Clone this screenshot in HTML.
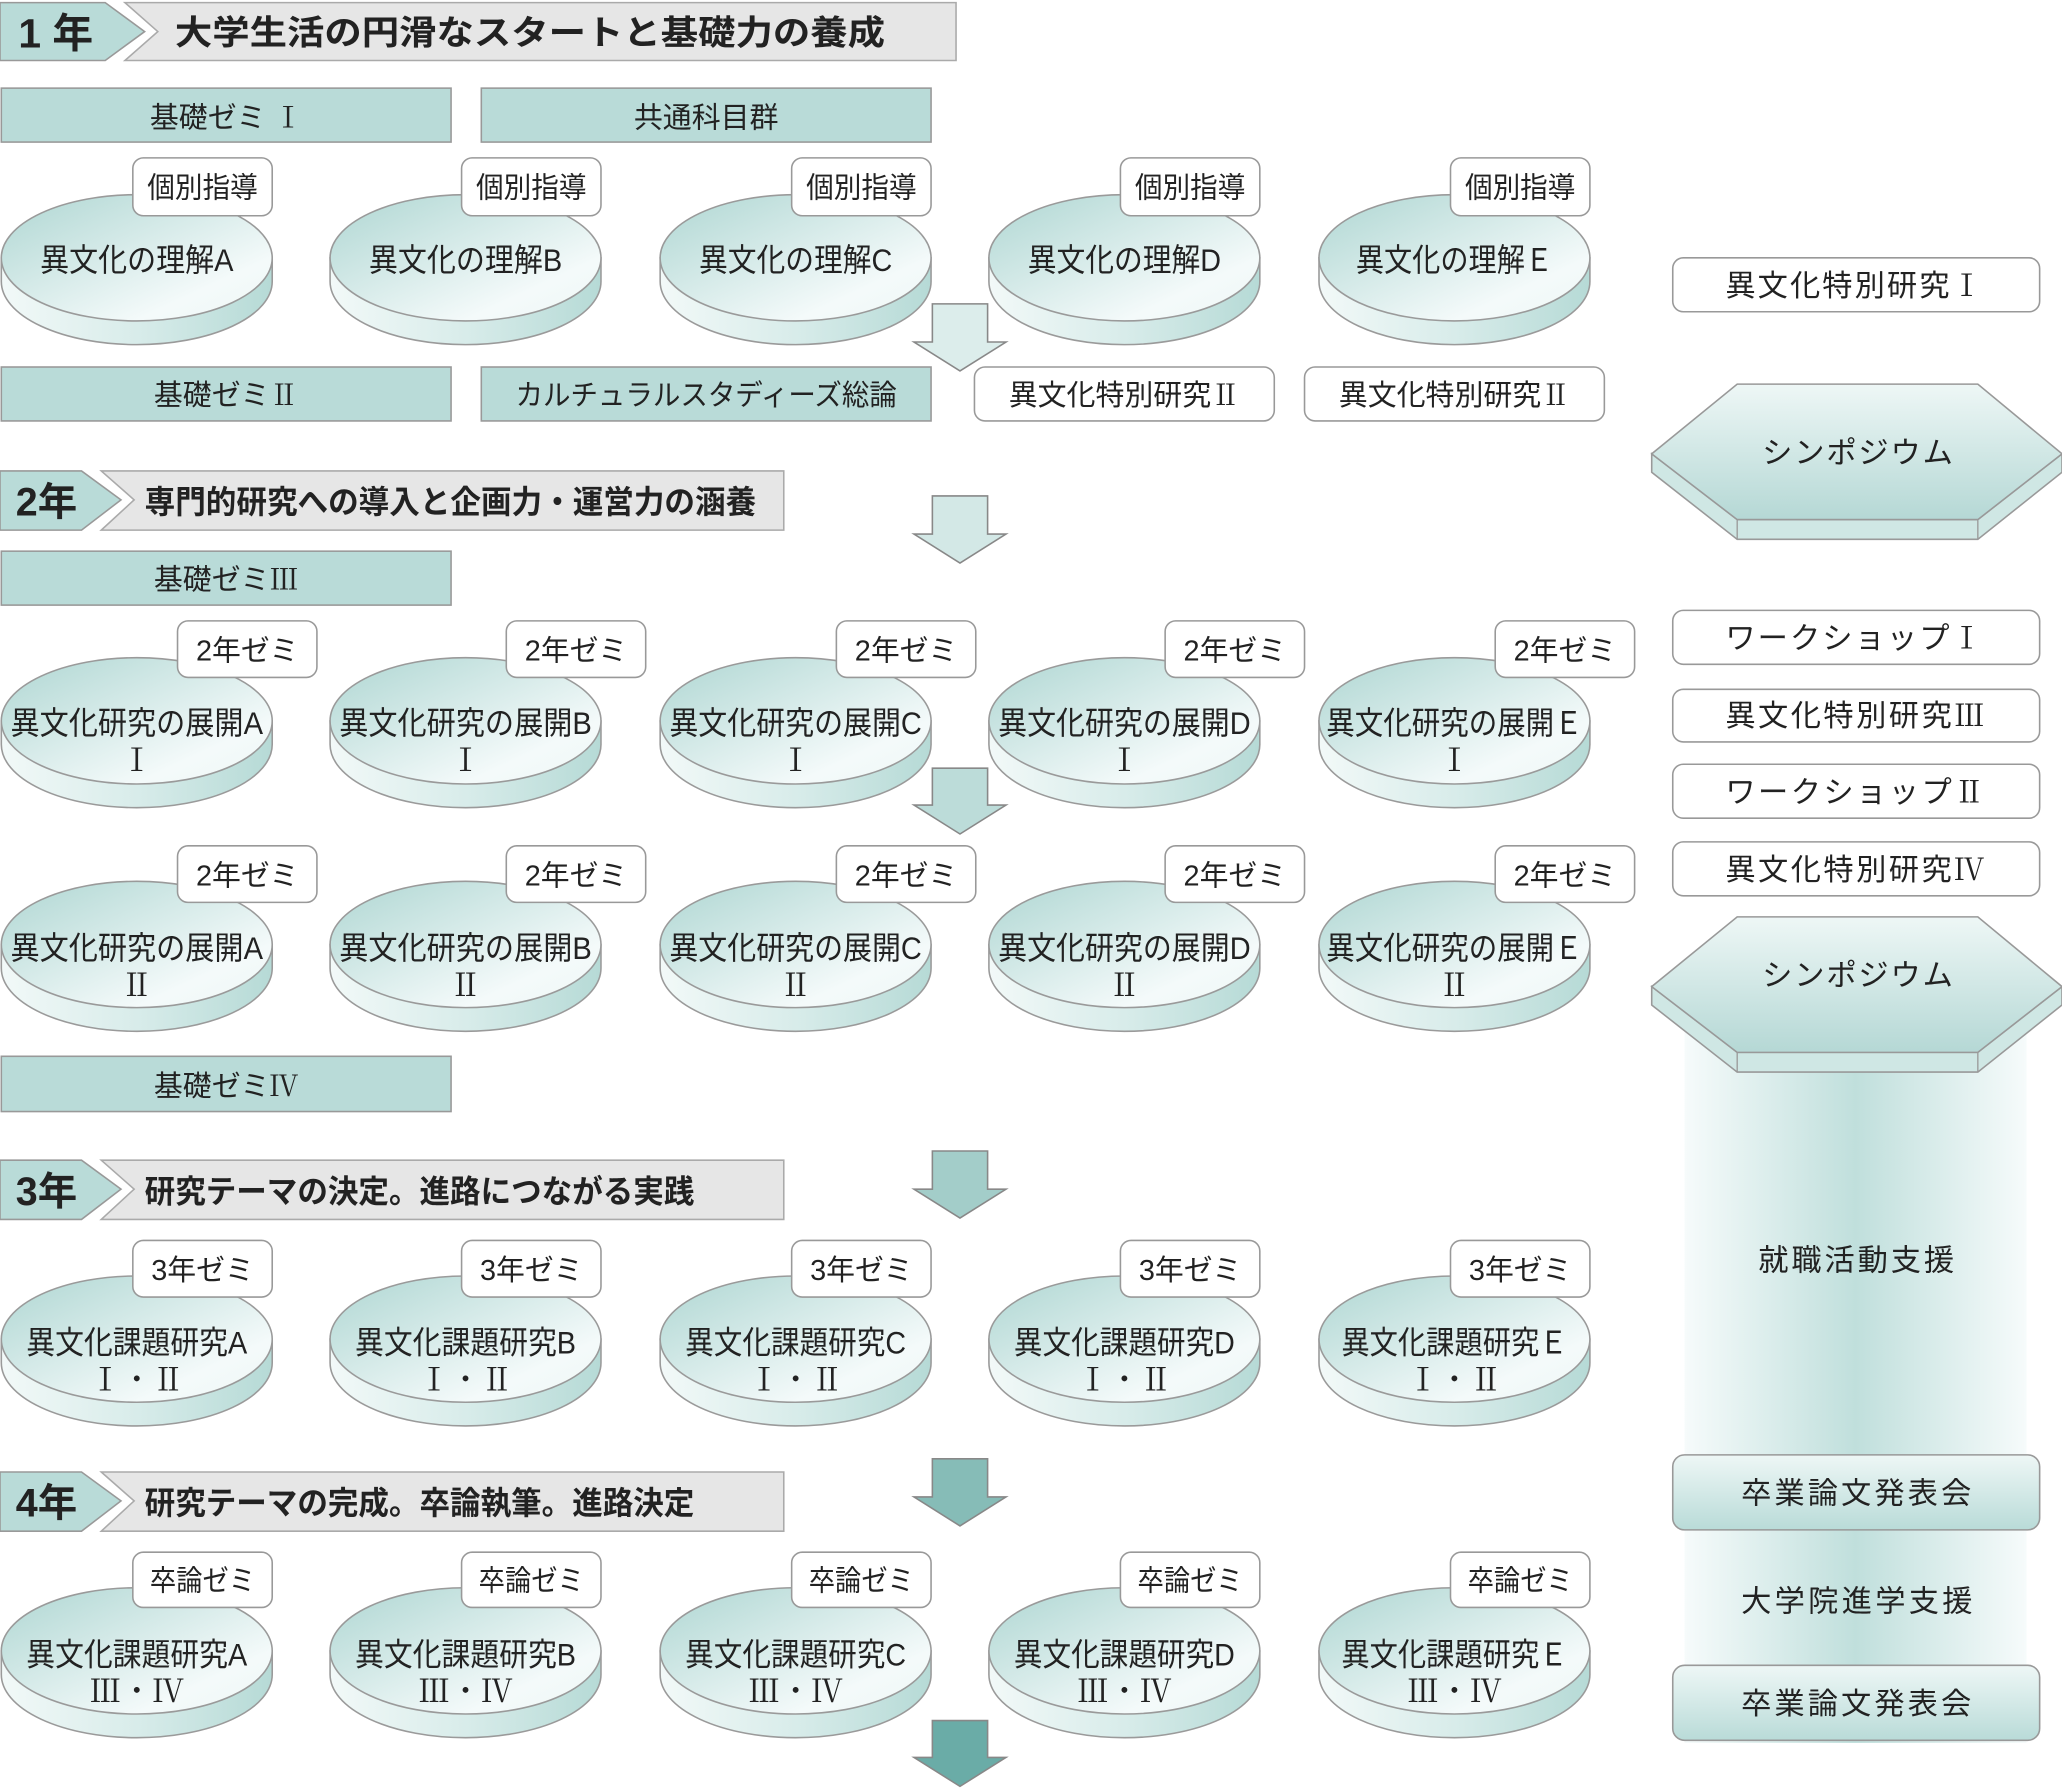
<!DOCTYPE html>
<html><head><meta charset="utf-8"><style>
html,body{margin:0;padding:0;background:#fff;}
svg{display:block;}
text{font-family:"Liberation Sans","Noto Sans CJK JP",sans-serif;fill:#222;}
.r{font-family:"Noto Serif CJK SC","Liberation Serif",serif;}
</style></head><body>
<svg width="2062" height="1789" viewBox="0 0 1568 1360" preserveAspectRatio="none" xmlns="http://www.w3.org/2000/svg">
<defs>
<linearGradient id="top" x1="0" y1="0" x2="1" y2="1">
<stop offset="0" stop-color="#aed6d2"/><stop offset="0.75" stop-color="#f4fafa"/><stop offset="1" stop-color="#eef7f6"/></linearGradient>
<linearGradient id="side" x1="0" y1="0" x2="1" y2="0">
<stop offset="0" stop-color="#f2f9f8"/><stop offset="0.5" stop-color="#d8ecea"/><stop offset="1" stop-color="#b6dad6"/></linearGradient>
<linearGradient id="col" x1="0" y1="0" x2="1" y2="0">
<stop offset="0" stop-color="#f6fbfb"/><stop offset="0.5" stop-color="#c0dfdc"/><stop offset="1" stop-color="#f6fbfb"/></linearGradient>
<linearGradient id="hex" x1="0" y1="0" x2="0" y2="1">
<stop offset="0" stop-color="#eef7f6"/><stop offset="1" stop-color="#b5d8d5"/></linearGradient>
<linearGradient id="btn" x1="0" y1="0" x2="0" y2="1">
<stop offset="0" stop-color="#eef7f6"/><stop offset="1" stop-color="#b9dbd8"/></linearGradient>
<g id="disc">
<path d="M-103,0 L-103,18 A103,48 0 0 0 103,18 L103,0 Z" fill="url(#side)" stroke="#9a9a9a" stroke-width="1.2"/>
<ellipse cx="0" cy="0" rx="103" ry="48" fill="url(#top)" stroke="#9a9a9a" stroke-width="1.2"/>
</g>
<g id="hexs">
<polygon points="0,53 0,67 65,118 248,118 312,67 312,53 248,103 65,103" fill="#cfe7e4" stroke="#999" stroke-width="1.2"/>
<line x1="65" y1="103" x2="65" y2="118" stroke="#999"/><line x1="248" y1="103" x2="248" y2="118" stroke="#999"/>
<polygon points="65,0 248,0 312,53 248,103 65,103 0,53" fill="url(#hex)" stroke="#999" stroke-width="1.2"/>
</g>
</defs>

<rect x="1281" y="780" width="260" height="545" fill="url(#col)"/>

<!-- Year 1 header -->
<polygon points="0,2 80,2 110,24 80,46 0,46" fill="#b9dbd8" stroke="#999" stroke-width="1.2"/>
<polygon points="95,2 727,2 727,46 95,46 120,24" fill="#e6e6e6" stroke="#aaa" stroke-width="1.2"/>
<text x="14" y="36" font-size="31" font-weight="bold">1 年</text>
<text x="133" y="34" font-size="26" font-weight="bold" textLength="540" lengthAdjust="spacingAndGlyphs">大学生活の円滑なスタートと基礎力の養成</text>

<rect x="1" y="67" width="342" height="41" fill="#b9dbd8" stroke="#999" stroke-width="1.2"/>
<text x="172" y="97" font-size="22" text-anchor="middle">基礎ゼミ <tspan class="r">Ⅰ</tspan></text>
<rect x="366" y="67" width="342" height="41" fill="#b9dbd8" stroke="#999" stroke-width="1.2"/>
<text x="537" y="97" font-size="22" text-anchor="middle">共通科目群</text>

<g font-size="22">
<use href="#disc" x="104" y="196"/><use href="#disc" x="354" y="196"/><use href="#disc" x="605" y="196"/><use href="#disc" x="855" y="196"/><use href="#disc" x="1106" y="196"/>
<rect x="101" y="120" width="106" height="44" rx="8" fill="#fff" stroke="#999" stroke-width="1.2"/>
<rect x="351" y="120" width="106" height="44" rx="8" fill="#fff" stroke="#999" stroke-width="1.2"/>
<rect x="602" y="120" width="106" height="44" rx="8" fill="#fff" stroke="#999" stroke-width="1.2"/>
<rect x="852" y="120" width="106" height="44" rx="8" fill="#fff" stroke="#999" stroke-width="1.2"/>
<rect x="1103" y="120" width="106" height="44" rx="8" fill="#fff" stroke="#999" stroke-width="1.2"/>
<text x="154" y="150" text-anchor="middle" textLength="84" lengthAdjust="spacingAndGlyphs">個別指導</text>
<text x="404" y="150" text-anchor="middle" textLength="84" lengthAdjust="spacingAndGlyphs">個別指導</text>
<text x="655" y="150" text-anchor="middle" textLength="84" lengthAdjust="spacingAndGlyphs">個別指導</text>
<text x="905" y="150" text-anchor="middle" textLength="84" lengthAdjust="spacingAndGlyphs">個別指導</text>
<text x="1156" y="150" text-anchor="middle" textLength="84" lengthAdjust="spacingAndGlyphs">個別指導</text>
</g>
<g font-size="24">
<text x="104" y="206" text-anchor="middle" textLength="147" lengthAdjust="spacingAndGlyphs">異文化の理解A</text>
<text x="354" y="206" text-anchor="middle" textLength="147" lengthAdjust="spacingAndGlyphs">異文化の理解B</text>
<text x="605" y="206" text-anchor="middle" textLength="147" lengthAdjust="spacingAndGlyphs">異文化の理解C</text>
<text x="855" y="206" text-anchor="middle" textLength="147" lengthAdjust="spacingAndGlyphs">異文化の理解D</text>
<text x="1106" y="206" text-anchor="middle" textLength="150" lengthAdjust="spacingAndGlyphs">異文化の理解Ｅ</text>
</g>

<!-- arrows -->
<polygon points="709,231 751,231 751,260 765,260 730,282 695,260 709,260" fill="#dcedeb" stroke="#888" stroke-width="1.2"/>
<polygon points="709,377 751,377 751,406 765,406 730,428 695,406 709,406" fill="#d3e8e6" stroke="#888" stroke-width="1.2"/>
<polygon points="709,584 751,584 751,612 765,612 730,634 695,612 709,612" fill="#bcdcd9" stroke="#888" stroke-width="1.2"/>
<polygon points="709,875 751,875 751,904 765,904 730,926 695,904 709,904" fill="#a3cdc9" stroke="#888" stroke-width="1.2"/>
<polygon points="709,1109 751,1109 751,1138 765,1138 730,1160 695,1138 709,1138" fill="#86bcb7" stroke="#888" stroke-width="1.2"/>
<polygon points="709,1308 751,1308 751,1336 765,1336 730,1358 695,1336 709,1336" fill="#6aaca7" stroke="#888" stroke-width="1.2"/>

<rect x="1" y="279" width="342" height="41" fill="#b9dbd8" stroke="#999" stroke-width="1.2"/>
<text x="172" y="308" font-size="22" text-anchor="middle">基礎ゼミ<tspan class="r">Ⅱ</tspan></text>
<rect x="366" y="279" width="342" height="41" fill="#b9dbd8" stroke="#999" stroke-width="1.2"/>
<text x="537" y="308" font-size="22" text-anchor="middle" textLength="290" lengthAdjust="spacingAndGlyphs">カルチュラルスタディーズ総論</text>
<rect x="741" y="279" width="228" height="41" rx="8" fill="#fff" stroke="#999" stroke-width="1.2"/>
<text x="855" y="308" font-size="22" text-anchor="middle">異文化特別研究<tspan class="r">Ⅱ</tspan></text>
<rect x="992" y="279" width="228" height="41" rx="8" fill="#fff" stroke="#999" stroke-width="1.2"/>
<text x="1106" y="308" font-size="22" text-anchor="middle">異文化特別研究<tspan class="r">Ⅱ</tspan></text>

<!-- right side -->
<g font-size="23">
<rect x="1272" y="196" width="279" height="41" rx="8" fill="#fff" stroke="#999" stroke-width="1.2"/>
<text x="1312" y="225" textLength="195" lengthAdjust="spacing">異文化特別研究<tspan class="r">Ⅰ</tspan></text>
<use href="#hexs" x="1256" y="292"/>
<text x="1340" y="352" textLength="145" lengthAdjust="spacing">シンポジウム</text>
<rect x="1272" y="464" width="279" height="41" rx="8" fill="#fff" stroke="#999" stroke-width="1.2"/>
<text x="1312" y="493" textLength="195" lengthAdjust="spacing">ワークショップ<tspan class="r">Ⅰ</tspan></text>
<rect x="1272" y="524" width="279" height="40" rx="8" fill="#fff" stroke="#999" stroke-width="1.2"/>
<text x="1312" y="552" textLength="197" lengthAdjust="spacing">異文化特別研究<tspan class="r">Ⅲ</tspan></text>
<rect x="1272" y="581" width="279" height="41" rx="8" fill="#fff" stroke="#999" stroke-width="1.2"/>
<text x="1312" y="610" textLength="197" lengthAdjust="spacing">ワークショップ<tspan class="r">Ⅱ</tspan></text>
<rect x="1272" y="640" width="279" height="41" rx="8" fill="#fff" stroke="#999" stroke-width="1.2"/>
<text x="1312" y="669" textLength="197" lengthAdjust="spacing">異文化特別研究<tspan class="r">Ⅳ</tspan></text>
<use href="#hexs" x="1256" y="697"/>
<text x="1340" y="749" textLength="145" lengthAdjust="spacing">シンポジウム</text>
<text x="1337" y="966" textLength="149" lengthAdjust="spacing">就職活動支援</text>
<rect x="1272" y="1106" width="279" height="57" rx="9" fill="url(#btn)" stroke="#999" stroke-width="1.2"/>
<text x="1324" y="1143" textLength="175" lengthAdjust="spacing">卒業論文発表会</text>
<text x="1324" y="1225" textLength="176" lengthAdjust="spacing">大学院進学支援</text>
<rect x="1272" y="1266" width="279" height="57" rx="9" fill="url(#btn)" stroke="#999" stroke-width="1.2"/>
<text x="1324" y="1303" textLength="175" lengthAdjust="spacing">卒業論文発表会</text>
</g>

<!-- Year 2 header -->
<polygon points="0,358 62,358 92,380 62,403 0,403" fill="#b9dbd8" stroke="#999" stroke-width="1.2"/>
<polygon points="77,358 596,358 596,403 77,403 102,380" fill="#e6e6e6" stroke="#aaa" stroke-width="1.2"/>
<text x="12" y="392" font-size="30" font-weight="bold">2年</text>
<text x="110" y="390" font-size="24" font-weight="bold" textLength="465" lengthAdjust="spacingAndGlyphs">専門的研究への導入と企画力・運営力の涵養</text>

<rect x="1" y="419" width="342" height="41" fill="#b9dbd8" stroke="#999" stroke-width="1.2"/>
<text x="172" y="448" font-size="22" text-anchor="middle">基礎ゼミ<tspan class="r">Ⅲ</tspan></text>

<use href="#disc" x="104" y="548"/><use href="#disc" x="354" y="548"/><use href="#disc" x="605" y="548"/><use href="#disc" x="855" y="548"/><use href="#disc" x="1106" y="548"/>
<g font-size="22">
<rect x="135" y="472" width="106" height="43" rx="8" fill="#fff" stroke="#999" stroke-width="1.2"/>
<rect x="385" y="472" width="106" height="43" rx="8" fill="#fff" stroke="#999" stroke-width="1.2"/>
<rect x="636" y="472" width="106" height="43" rx="8" fill="#fff" stroke="#999" stroke-width="1.2"/>
<rect x="886" y="472" width="106" height="43" rx="8" fill="#fff" stroke="#999" stroke-width="1.2"/>
<rect x="1137" y="472" width="106" height="43" rx="8" fill="#fff" stroke="#999" stroke-width="1.2"/>
<text x="188" y="502" text-anchor="middle" textLength="78" lengthAdjust="spacingAndGlyphs">2年ゼミ</text>
<text x="438" y="502" text-anchor="middle" textLength="78" lengthAdjust="spacingAndGlyphs">2年ゼミ</text>
<text x="689" y="502" text-anchor="middle" textLength="78" lengthAdjust="spacingAndGlyphs">2年ゼミ</text>
<text x="939" y="502" text-anchor="middle" textLength="78" lengthAdjust="spacingAndGlyphs">2年ゼミ</text>
<text x="1190" y="502" text-anchor="middle" textLength="78" lengthAdjust="spacingAndGlyphs">2年ゼミ</text>
</g>
<g font-size="24" text-anchor="middle">
<text x="104" y="558" textLength="192" lengthAdjust="spacingAndGlyphs">異文化研究の展開A</text>
<text x="354" y="558" textLength="192" lengthAdjust="spacingAndGlyphs">異文化研究の展開B</text>
<text x="605" y="558" textLength="192" lengthAdjust="spacingAndGlyphs">異文化研究の展開C</text>
<text x="855" y="558" textLength="192" lengthAdjust="spacingAndGlyphs">異文化研究の展開D</text>
<text x="1106" y="558" textLength="195" lengthAdjust="spacingAndGlyphs">異文化研究の展開Ｅ</text>
<g class="r"><text x="104" y="586" class="r">Ⅰ</text><text x="354" y="586" class="r">Ⅰ</text><text x="605" y="586" class="r">Ⅰ</text><text x="855" y="586" class="r">Ⅰ</text><text x="1106" y="586" class="r">Ⅰ</text></g>
</g>

<use href="#disc" x="104" y="718"/><use href="#disc" x="354" y="718"/><use href="#disc" x="605" y="718"/><use href="#disc" x="855" y="718"/><use href="#disc" x="1106" y="718"/>
<g font-size="22">
<rect x="135" y="643" width="106" height="43" rx="8" fill="#fff" stroke="#999" stroke-width="1.2"/>
<rect x="385" y="643" width="106" height="43" rx="8" fill="#fff" stroke="#999" stroke-width="1.2"/>
<rect x="636" y="643" width="106" height="43" rx="8" fill="#fff" stroke="#999" stroke-width="1.2"/>
<rect x="886" y="643" width="106" height="43" rx="8" fill="#fff" stroke="#999" stroke-width="1.2"/>
<rect x="1137" y="643" width="106" height="43" rx="8" fill="#fff" stroke="#999" stroke-width="1.2"/>
<text x="188" y="673" text-anchor="middle" textLength="78" lengthAdjust="spacingAndGlyphs">2年ゼミ</text>
<text x="438" y="673" text-anchor="middle" textLength="78" lengthAdjust="spacingAndGlyphs">2年ゼミ</text>
<text x="689" y="673" text-anchor="middle" textLength="78" lengthAdjust="spacingAndGlyphs">2年ゼミ</text>
<text x="939" y="673" text-anchor="middle" textLength="78" lengthAdjust="spacingAndGlyphs">2年ゼミ</text>
<text x="1190" y="673" text-anchor="middle" textLength="78" lengthAdjust="spacingAndGlyphs">2年ゼミ</text>
</g>
<g font-size="24" text-anchor="middle">
<text x="104" y="729" textLength="192" lengthAdjust="spacingAndGlyphs">異文化研究の展開A</text>
<text x="354" y="729" textLength="192" lengthAdjust="spacingAndGlyphs">異文化研究の展開B</text>
<text x="605" y="729" textLength="192" lengthAdjust="spacingAndGlyphs">異文化研究の展開C</text>
<text x="855" y="729" textLength="192" lengthAdjust="spacingAndGlyphs">異文化研究の展開D</text>
<text x="1106" y="729" textLength="195" lengthAdjust="spacingAndGlyphs">異文化研究の展開Ｅ</text>
<text x="104" y="757" class="r">Ⅱ</text><text x="354" y="757" class="r">Ⅱ</text><text x="605" y="757" class="r">Ⅱ</text><text x="855" y="757" class="r">Ⅱ</text><text x="1106" y="757" class="r">Ⅱ</text>
</g>

<rect x="1" y="803" width="342" height="42" fill="#b9dbd8" stroke="#999" stroke-width="1.2"/>
<text x="172" y="833" font-size="22" text-anchor="middle">基礎ゼミ<tspan class="r">Ⅳ</tspan></text>

<!-- Year 3 header -->
<polygon points="0,882 62,882 92,904 62,927 0,927" fill="#b9dbd8" stroke="#999" stroke-width="1.2"/>
<polygon points="77,882 596,882 596,927 77,927 102,904" fill="#e6e6e6" stroke="#aaa" stroke-width="1.2"/>
<text x="12" y="916" font-size="30" font-weight="bold">3年</text>
<text x="110" y="914" font-size="24" font-weight="bold" textLength="418" lengthAdjust="spacingAndGlyphs">研究テーマの決定。進路につながる実践</text>

<use href="#disc" x="104" y="1018"/><use href="#disc" x="354" y="1018"/><use href="#disc" x="605" y="1018"/><use href="#disc" x="855" y="1018"/><use href="#disc" x="1106" y="1018"/>
<g font-size="22">
<rect x="101" y="943" width="106" height="43" rx="8" fill="#fff" stroke="#999" stroke-width="1.2"/>
<rect x="351" y="943" width="106" height="43" rx="8" fill="#fff" stroke="#999" stroke-width="1.2"/>
<rect x="602" y="943" width="106" height="43" rx="8" fill="#fff" stroke="#999" stroke-width="1.2"/>
<rect x="852" y="943" width="106" height="43" rx="8" fill="#fff" stroke="#999" stroke-width="1.2"/>
<rect x="1103" y="943" width="106" height="43" rx="8" fill="#fff" stroke="#999" stroke-width="1.2"/>
<text x="154" y="973" text-anchor="middle" textLength="78" lengthAdjust="spacingAndGlyphs">3年ゼミ</text>
<text x="404" y="973" text-anchor="middle" textLength="78" lengthAdjust="spacingAndGlyphs">3年ゼミ</text>
<text x="655" y="973" text-anchor="middle" textLength="78" lengthAdjust="spacingAndGlyphs">3年ゼミ</text>
<text x="905" y="973" text-anchor="middle" textLength="78" lengthAdjust="spacingAndGlyphs">3年ゼミ</text>
<text x="1156" y="973" text-anchor="middle" textLength="78" lengthAdjust="spacingAndGlyphs">3年ゼミ</text>
</g>
<g font-size="24" text-anchor="middle">
<text x="104" y="1029" textLength="168" lengthAdjust="spacingAndGlyphs">異文化課題研究A</text>
<text x="354" y="1029" textLength="168" lengthAdjust="spacingAndGlyphs">異文化課題研究B</text>
<text x="605" y="1029" textLength="168" lengthAdjust="spacingAndGlyphs">異文化課題研究C</text>
<text x="855" y="1029" textLength="168" lengthAdjust="spacingAndGlyphs">異文化課題研究D</text>
<text x="1106" y="1029" textLength="172" lengthAdjust="spacingAndGlyphs">異文化課題研究Ｅ</text>
<text x="104" y="1057" class="r">Ⅰ・Ⅱ</text><text x="354" y="1057" class="r">Ⅰ・Ⅱ</text><text x="605" y="1057" class="r">Ⅰ・Ⅱ</text><text x="855" y="1057" class="r">Ⅰ・Ⅱ</text><text x="1106" y="1057" class="r">Ⅰ・Ⅱ</text>
</g>

<!-- Year 4 header -->
<polygon points="0,1119 62,1119 92,1141 62,1164 0,1164" fill="#b9dbd8" stroke="#999" stroke-width="1.2"/>
<polygon points="77,1119 596,1119 596,1164 77,1164 102,1141" fill="#e6e6e6" stroke="#aaa" stroke-width="1.2"/>
<text x="12" y="1153" font-size="30" font-weight="bold">4年</text>
<text x="110" y="1151" font-size="24" font-weight="bold" textLength="418" lengthAdjust="spacingAndGlyphs">研究テーマの完成。卒論執筆。進路決定</text>

<use href="#disc" x="104" y="1255"/><use href="#disc" x="354" y="1255"/><use href="#disc" x="605" y="1255"/><use href="#disc" x="855" y="1255"/><use href="#disc" x="1106" y="1255"/>
<g font-size="22">
<rect x="101" y="1180" width="106" height="42" rx="8" fill="#fff" stroke="#999" stroke-width="1.2"/>
<rect x="351" y="1180" width="106" height="42" rx="8" fill="#fff" stroke="#999" stroke-width="1.2"/>
<rect x="602" y="1180" width="106" height="42" rx="8" fill="#fff" stroke="#999" stroke-width="1.2"/>
<rect x="852" y="1180" width="106" height="42" rx="8" fill="#fff" stroke="#999" stroke-width="1.2"/>
<rect x="1103" y="1180" width="106" height="42" rx="8" fill="#fff" stroke="#999" stroke-width="1.2"/>
<text x="154" y="1209" text-anchor="middle" textLength="80" lengthAdjust="spacingAndGlyphs">卒論ゼミ</text>
<text x="404" y="1209" text-anchor="middle" textLength="80" lengthAdjust="spacingAndGlyphs">卒論ゼミ</text>
<text x="655" y="1209" text-anchor="middle" textLength="80" lengthAdjust="spacingAndGlyphs">卒論ゼミ</text>
<text x="905" y="1209" text-anchor="middle" textLength="80" lengthAdjust="spacingAndGlyphs">卒論ゼミ</text>
<text x="1156" y="1209" text-anchor="middle" textLength="80" lengthAdjust="spacingAndGlyphs">卒論ゼミ</text>
</g>
<g font-size="24" text-anchor="middle">
<text x="104" y="1266" textLength="168" lengthAdjust="spacingAndGlyphs">異文化課題研究A</text>
<text x="354" y="1266" textLength="168" lengthAdjust="spacingAndGlyphs">異文化課題研究B</text>
<text x="605" y="1266" textLength="168" lengthAdjust="spacingAndGlyphs">異文化課題研究C</text>
<text x="855" y="1266" textLength="168" lengthAdjust="spacingAndGlyphs">異文化課題研究D</text>
<text x="1106" y="1266" textLength="172" lengthAdjust="spacingAndGlyphs">異文化課題研究Ｅ</text>
<text x="104" y="1294" class="r">Ⅲ・Ⅳ</text><text x="354" y="1294" class="r">Ⅲ・Ⅳ</text><text x="605" y="1294" class="r">Ⅲ・Ⅳ</text><text x="855" y="1294" class="r">Ⅲ・Ⅳ</text><text x="1106" y="1294" class="r">Ⅲ・Ⅳ</text>
</g>
</svg>
</body></html>
